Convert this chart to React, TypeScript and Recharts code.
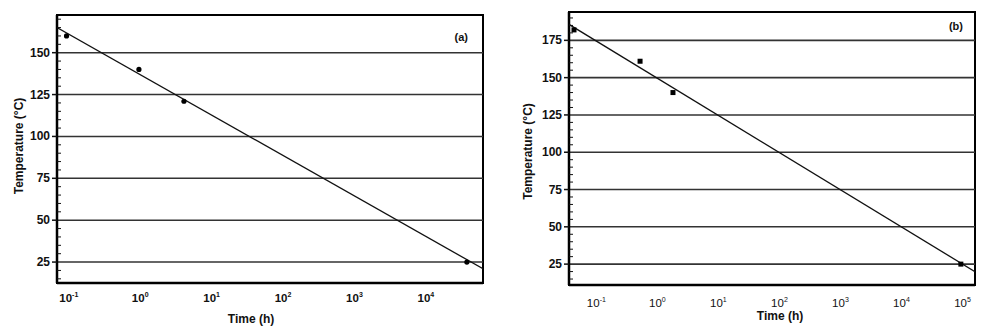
import {
  ComposedChart,
  XAxis,
  YAxis,
  Scatter,
  ReferenceLine,
  ReferenceArea,
} from "recharts";

// panel (a) measured points: time (h), temperature (°C)
const aPoints = [
  { t: 0.093, T: 160 },
  { t: 0.96, T: 140 },
  { t: 4.1, T: 121 },
  { t: 37500, T: 25 },
];
// panel (a) fitted line, end points at the frame edges
const aFit = [
  { t: 0.0684, T: 165 },
  { t: 63100, T: 21 },
];
const aXDomain = [0.0684, 63100];
const aYDomain = [12.5, 172.5];
const aXTicks = [0.1, 1, 10, 100, 1000, 10000];
const aYMajor = [25, 50, 75, 100, 125, 150];
const aYTicks = [
  15, 20, 25, 30, 35, 40, 45, 50, 55, 60, 65, 70, 75, 80, 85, 90, 95, 100,
  105, 110, 115, 120, 125, 130, 135, 140, 145, 150, 155, 160, 165, 170,
];

// panel (b)
const bPoints = [
  { t: 0.043, T: 182 },
  { t: 0.52, T: 161 },
  { t: 1.8, T: 140 },
  { t: 94000, T: 25 },
];
const bFit = [
  { t: 0.0356, T: 185.7 },
  { t: 160300, T: 19.9 },
];
const bXDomain = [0.0356, 160300];
const bYDomain = [11, 194];
const bXTicks = [0.1, 1, 10, 100, 1000, 10000, 100000];
const bYMajor = [25, 50, 75, 100, 125, 150, 175];
const bYTicks = [
  15, 20, 25, 30, 35, 40, 45, 50, 55, 60, 65, 70, 75, 80, 85, 90, 95, 100,
  105, 110, 115, 120, 125, 130, 135, 140, 145, 150, 155, 160, 165, 170, 175,
  180, 185, 190,
];

const font = "Arial, 'Liberation Sans', sans-serif";

function YTick(props: any) {
  const { x, y, payload } = props;
  const v = payload.value;
  if (v % 25 === 0) {
    return (
      <g>
        <line x1={x - 5} x2={x} y1={y} y2={y} stroke="#111" strokeWidth={1.5} />
        <text
          x={x - 7}
          y={y}
          dy={4}
          textAnchor="end"
          fontFamily={font}
          fontWeight="bold"
          fontSize={12}
          fill="#111"
        >
          {v}
        </text>
      </g>
    );
  }
  return <line x1={x} x2={x + 4} y1={y} y2={y} stroke="#111" strokeWidth={1} />;
}

function makeXTick(bold: boolean, dy: number) {
  return (props: any) => {
    const { x, y, payload } = props;
    const exp = Math.round(Math.log10(payload.value));
    return (
      <text
        x={x}
        y={y}
        textAnchor="middle"
        fontFamily={font}
        fontWeight={bold ? "bold" : "normal"}
        fill="#111"
      >
        <tspan dy={dy} fontSize={11.5}>10</tspan>
        <tspan dy={-5} fontSize={7}>{exp}</tspan>
      </text>
    );
  };
}

function Panel(props: {
  points: { t: number; T: number }[];
  fit: { t: number; T: number }[];
  xDomain: number[];
  yDomain: number[];
  xTicks: number[];
  yTicks: number[];
  yMajor: number[];
  width: number;
  margin: any;
  yWidth: number;
  xHeight: number;
  tag: string;
  square: boolean;
  boldX: boolean;
  xTickDy: number;
  xLabelDx: number;
  xLabelY: number;
  yLabelX: number;
  yLabelDy: number;
  tagDx: number;
  tagDy: number;
}) {
  const p = props;
  return (
    <ComposedChart width={p.width} height={330} margin={p.margin}>
      <XAxis
        dataKey="t"
        type="number"
        scale="log"
        domain={p.xDomain}
        allowDataOverflow
        ticks={p.xTicks}
        interval={0}
        tickLine={false}
        tick={makeXTick(p.boldX, p.xTickDy)}
        axisLine={{ stroke: "#000", strokeWidth: 2.5 }}
        height={p.xHeight}
        label={{
          content: (lp: any) => {
            const vb = lp.viewBox;
            return (
              <text
                x={vb.x + vb.width / 2 + p.xLabelDx}
                y={p.xLabelY}
                textAnchor="middle"
                fontFamily={font}
                fontWeight="bold"
                fontSize={12}
                fill="#111"
              >
                Time (h)
              </text>
            );
          },
        }}
      />
      <YAxis
        dataKey="T"
        type="number"
        domain={p.yDomain}
        allowDataOverflow
        ticks={p.yTicks}
        interval={0}
        tickSize={0}
        tickMargin={0}
        tickLine={false}
        tick={YTick}
        axisLine={{ stroke: "#000", strokeWidth: 2.5 }}
        width={p.yWidth}
        label={{
          content: (lp: any) => {
            const vb = lp.viewBox;
            const cy = vb.y + vb.height / 2 + p.yLabelDy;
            return (
              <text
                transform={`translate(${p.yLabelX},${cy}) rotate(-90)`}
                textAnchor="middle"
                fontFamily={font}
                fontWeight="bold"
                fontSize={12}
                fill="#111"
              >
                Temperature (°C)
              </text>
            );
          },
        }}
      />
      {p.yMajor.map((v) => (
        <ReferenceLine key={v} y={v} stroke="#333" strokeWidth={1.6} />
      ))}
      <ReferenceArea
        x1={p.xDomain[0]}
        x2={p.xDomain[1]}
        y1={p.yDomain[0]}
        y2={p.yDomain[1]}
        fill="none"
        stroke="#000"
        strokeWidth={2}
        label={{
          content: (lp: any) => {
            const vb = lp.viewBox;
            return (
              <text
                x={vb.x + vb.width - p.tagDx}
                y={vb.y + p.tagDy}
                textAnchor="end"
                fontFamily={font}
                fontWeight="bold"
                fontSize={11}
                fill="#111"
              >
                {p.tag}
              </text>
            );
          },
        }}
      />
      <Scatter
        data={p.fit}
        line={{ stroke: "#111", strokeWidth: 1.3 }}
        shape={() => <g />}
        isAnimationActive={false}
      />
      <Scatter
        data={p.points}
        fill="#000"
        isAnimationActive={false}
        shape={(sp: any) =>
          p.square ? (
            <rect x={sp.cx - 2.5} y={sp.cy - 2.5} width={5} height={5} fill="#000" />
          ) : (
            <circle cx={sp.cx} cy={sp.cy} r={2.6} fill="#000" />
          )
        }
      />
    </ComposedChart>
  );
}

export default function App() {
  return (
    <div
      style={{
        position: "absolute",
        left: 0,
        top: 0,
        width: 989,
        height: 330,
        background: "#fff",
        overflow: "hidden",
      }}
    >
      <div style={{ position: "absolute", left: 0, top: 0 }}>
        <Panel
          points={aPoints}
          fit={aFit}
          xDomain={aXDomain}
          yDomain={aYDomain}
          xTicks={aXTicks}
          yTicks={aYTicks}
          yMajor={aYMajor}
          width={490}
          margin={{ top: 15, right: 7, bottom: 0, left: 0 }}
          yWidth={57}
          xHeight={47}
          tag="(a)"
          square={false}
          boldX={true}
          xTickDy={11}
          xLabelDx={-19}
          xLabelY={323}
          yLabelX={23}
          yLabelDy={-3}
          tagDx={15}
          tagDy={26}
        />
      </div>
      <div style={{ position: "absolute", left: 490, top: 0 }}>
        <Panel
          points={bPoints}
          fit={bFit}
          xDomain={bXDomain}
          yDomain={bYDomain}
          xTicks={bXTicks}
          yTicks={bYTicks}
          yMajor={bYMajor}
          width={499}
          margin={{ top: 12, right: 14, bottom: 0, left: 0 }}
          yWidth={79}
          xHeight={45}
          tag="(b)"
          square={true}
          boldX={false}
          xTickDy={14}
          xLabelDx={8}
          xLabelY={320}
          yLabelX={42}
          yLabelDy={3}
          tagDx={12}
          tagDy={18}
        />
      </div>
    </div>
  );
}
